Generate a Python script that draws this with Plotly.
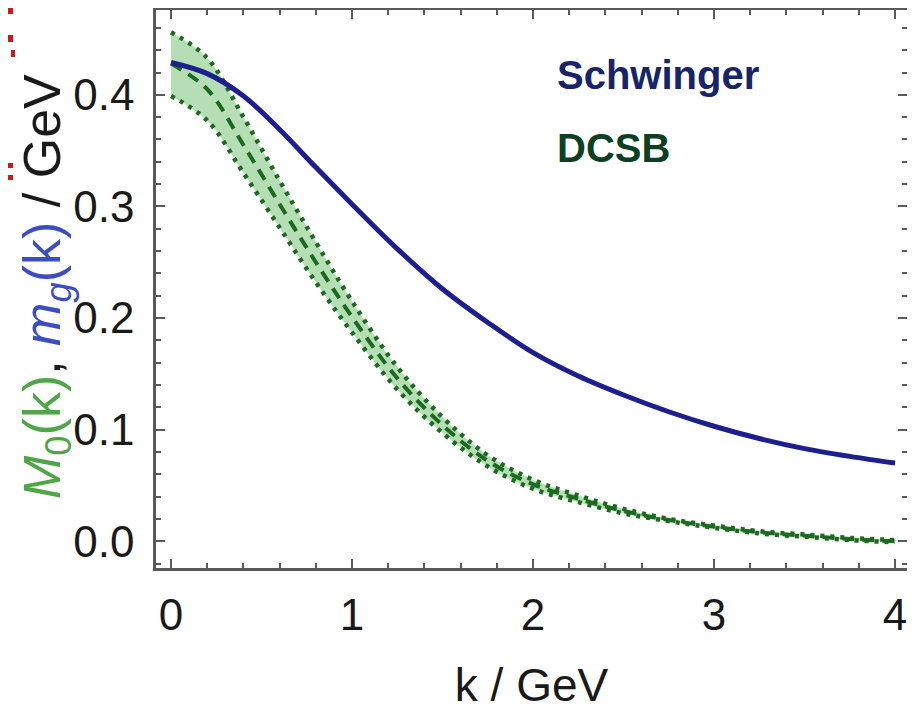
import plotly.graph_objects as go

# momentum grid (GeV)
k = [0, 0.2, 0.4, 0.6, 0.8, 1.0, 1.25, 1.5, 1.75, 2.0, 2.25, 2.5, 2.75, 3.0, 3.25, 3.5, 3.75, 4.0]

# Schwinger gluon mass m_g(k)
m_g = [0.429, 0.419, 0.399, 0.369, 0.335, 0.302, 0.262, 0.226, 0.196, 0.169, 0.148, 0.131,
       0.116, 0.103, 0.092, 0.083, 0.076, 0.070]

# DCSB quark mass M_0(k): central and band edges
M0_mid = [0.428, 0.405, 0.355, 0.302, 0.250, 0.201, 0.146, 0.104, 0.072, 0.051, 0.038, 0.027,
          0.019, 0.013, 0.008, 0.005, 0.002, 0.000]
M0_hi = [0.456, 0.433, 0.380, 0.323, 0.268, 0.215, 0.156, 0.111, 0.077, 0.055, 0.041, 0.029,
         0.020, 0.014, 0.009, 0.006, 0.003, 0.001]
M0_lo = [0.399, 0.377, 0.330, 0.281, 0.232, 0.187, 0.136, 0.097, 0.067, 0.047, 0.035, 0.025,
         0.018, 0.012, 0.007, 0.004, 0.001, -0.001]

x_ticks = [0, 1, 2, 3, 4]
y_ticks = [0.0, 0.1, 0.2, 0.3, 0.4]
y_ticklabels = ["0.0", "0.1", "0.2", "0.3", "0.4"]

GREEN_LINE = "#1b6a1f"
GREEN_FILL = "rgba(120,195,120,0.55)"
BLUE_LINE = "#1d1f8e"
FRAME = "#5a5a5a"
FONT = "Liberation Sans, Arial, sans-serif"

fig = go.Figure()

fig.add_trace(go.Scatter(x=k, y=M0_lo, mode="lines", line=dict(color=GREEN_LINE, width=4.5, dash="4px,6px", shape="spline"),
                         showlegend=False, hoverinfo="skip"))
fig.add_trace(go.Scatter(x=k, y=M0_hi, mode="lines", line=dict(color=GREEN_LINE, width=4.5, dash="4px,6px", shape="spline"),
                         fill="tonexty", fillcolor=GREEN_FILL, showlegend=False, hoverinfo="skip"))
fig.add_trace(go.Scatter(x=k, y=M0_mid, mode="lines", line=dict(color=GREEN_LINE, width=4, dash="12px,8px", shape="spline"),
                         showlegend=False))
fig.add_trace(go.Scatter(x=k, y=m_g, mode="lines", line=dict(color=BLUE_LINE, width=5, shape="spline"),
                         showlegend=False))

axis_common = dict(
    showline=True, linecolor=FRAME, linewidth=2.5, mirror="allticks",
    ticks="inside", tickcolor=FRAME, tickwidth=2, ticklen=9,
    showgrid=False, zeroline=False, automargin=False, ticklabeloverflow="allow",
    tickfont=dict(family=FONT, size=44, color="#1a1a1a"),
)

fig.update_xaxes(
    range=[-0.083, 4.066], tickvals=x_ticks, ticktext=[str(v) for v in x_ticks],
    minor=dict(dtick=0.2, tick0=0, ticks="inside", ticklen=5, tickcolor=FRAME, tickwidth=1.5),
    title=dict(text="k / GeV", font=dict(family=FONT, size=46, color="#1a1a1a"), standoff=32),
    ticklabelstandoff=6,
    **axis_common,
)
fig.update_yaxes(
    range=[-0.024, 0.476], tickvals=y_ticks, ticktext=y_ticklabels,
    minor=dict(dtick=0.02, tick0=0, ticks="inside", ticklen=5, tickcolor=FRAME, tickwidth=1.5),
    ticklabelstandoff=10,
    **axis_common,
)

# y-axis title (placed as a rotated annotation to match the reference position)
fig.add_annotation(
    x=(38 - 148) / 751, y=(560 - 279) / 558, xref="paper", yref="paper",
    text="<span style='color:#4ea646'><i>M</i><sub>0</sub>(k)</span>, "
         "<span style='color:#3a4ec2'><i>m<sub>g</sub></i>(k)</span> / GeV",
    textangle=-90, showarrow=False, xanchor="center", yanchor="middle",
    font=dict(family=FONT, size=52, color="#1a1a1a"),
)

fig.add_annotation(x=2.12, y=0.418, xref="x", yref="y", text="<b>Schwinger</b>", showarrow=False,
                   xanchor="left", yanchor="middle", font=dict(family=FONT, size=40, color="#17246a"))
fig.add_annotation(x=2.12, y=0.352, xref="x", yref="y", text="<b>DCSB</b>", showarrow=False,
                   xanchor="left", yanchor="middle", font=dict(family=FONT, size=40, color="#0d3f22"))

# small red marks at the left edge of the reference image (figure-relative pixels)
for (y0, y1, x0, x1) in [(0, 6, 0, 5), (27, 34, 0, 5), (42, 49, 3, 7), (155, 160, 0, 5), (167, 172, 0, 5)]:
    fig.add_shape(type="rect", xref="paper", yref="paper",
                  x0=(x0 - 148) / 751, x1=(x1 - 148) / 751,
                  y0=(560 - y1) / 558, y1=(560 - y0) / 558,
                  fillcolor="#d8141c", line=dict(width=0), layer="above")

fig.update_layout(
    width=907, height=707,
    margin=dict(l=148, r=8, t=2, b=147),
    plot_bgcolor="white", paper_bgcolor="white",
    showlegend=False,
)

fig.write_html("out.html")
